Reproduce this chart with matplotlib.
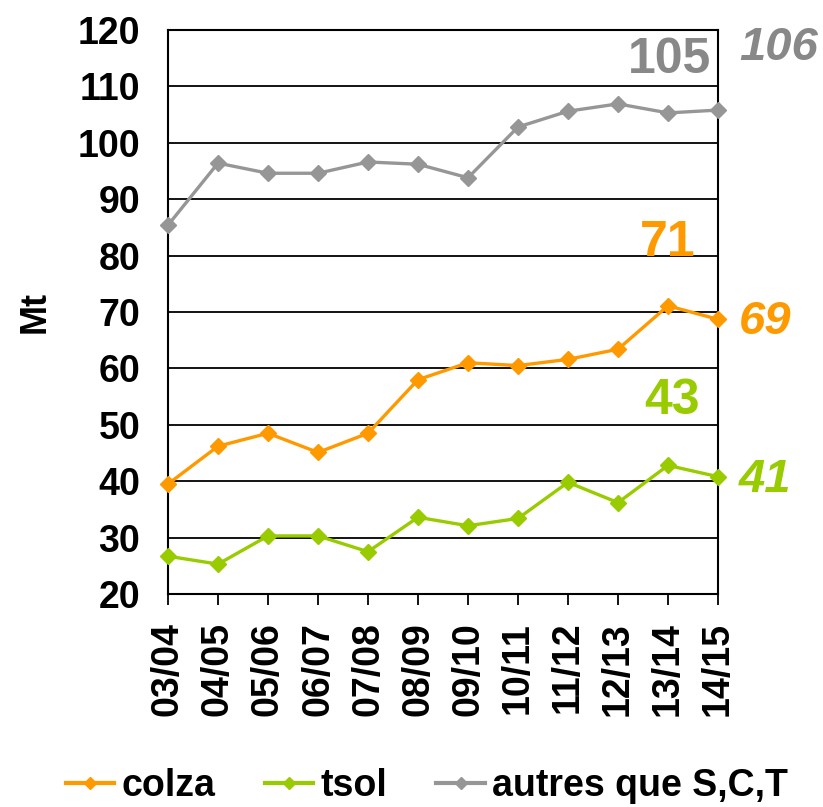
import matplotlib
matplotlib.use("Agg")
import matplotlib.pyplot as plt

categories = ["03/04", "04/05", "05/06", "06/07", "07/08", "08/09", "09/10",
              "10/11", "11/12", "12/13", "13/14", "14/15"]
colza = [39.5, 46.2, 48.5, 45.1, 48.5, 58.0, 61.0, 60.5, 61.6, 63.4, 71.1, 68.7]
tsol = [26.7, 25.3, 30.3, 30.3, 27.5, 33.6, 32.1, 33.4, 39.8, 36.2, 42.8, 40.8]
autres = [85.4, 96.4, 94.6, 94.6, 96.6, 96.2, 93.8, 102.8, 105.6, 106.9, 105.3, 105.8]
series_names = ["colza", "tsol", "autres que S,C,T"]
yticks = [20, 30, 40, 50, 60, 70, 80, 90, 100, 110, 120]

c_orange = "#FF9900"
c_green = "#99CC00"
c_gray = "#969696"
c_gray_txt = "#888888"

plt.rcParams['font.family'] = ['Liberation Sans', 'DejaVu Sans']
plt.rcParams['font.weight'] = 'bold'

W, H = 823, 807
fig = plt.figure(figsize=(W/100, H/100), dpi=100)
ax = fig.add_axes([168/W, 1-594/H, 550/W, 564/H])

x = list(range(len(categories)))
for vals, col, name in [(colza, c_orange, series_names[0]),
                        (tsol, c_green, series_names[1]),
                        (autres, c_gray, series_names[2])]:
    ax.plot(x, vals, color=col, lw=2.4, marker='D', ms=8, mec=col, mfc=col,
            label=name, clip_on=False, zorder=3)

ax.set_xlim(0, len(categories) - 1)
ax.set_ylim(20, 120)
ax.set_yticks(yticks)
ax.set_yticklabels([str(v) for v in yticks], fontsize=27, fontweight='bold')
ax.set_xticks(x)
ax.set_xticklabels(categories, rotation=90, fontsize=27, fontweight='bold')
ax.tick_params(axis='y', length=0, pad=20)
ax.tick_params(axis='x', length=8, width=1.3, pad=12, direction='out')
ax.yaxis.grid(True, color='black', lw=1.3)
ax.set_axisbelow(True)
for s in ax.spines.values():
    s.set_linewidth(1.5)
    s.set_color('black')

ax.set_ylabel("Mt", fontsize=26, fontweight='bold', labelpad=18)

def ftext(px, py, s, ha, color, size, italic=False):
    fig.text(px/W, 1-py/H, s, ha=ha, va='center', fontsize=size,
             fontweight='bold', style='italic' if italic else 'normal', color=color)

ftext(711, 60, f"{round(autres[10])}", 'right', c_gray_txt, 36)
ftext(739, 48, f"{round(autres[11])}", 'left', c_gray_txt, 34, True)
ftext(696, 243, f"{round(colza[10])}", 'right', c_orange, 36)
ftext(739, 322, f"{round(colza[11])}", 'left', c_orange, 34, True)
ftext(700, 401, f"{round(tsol[10])}", 'right', c_green, 36)
ftext(739, 480, f"{round(tsol[11])}", 'left', c_green, 34, True)

handles, labels = ax.get_legend_handles_labels()
leg = fig.legend(handles, labels, loc='center', bbox_to_anchor=(427/W, 1-786/H),
                 ncol=3, frameon=False, handlelength=1.3,
                 handletextpad=0.2, columnspacing=1.3, markerscale=0.75,
                 prop={'weight': 'bold', 'size': 27})
for ln in leg.get_lines():
    ln.set_linewidth(3.0)

fig.savefig("out.png", dpi=100)
